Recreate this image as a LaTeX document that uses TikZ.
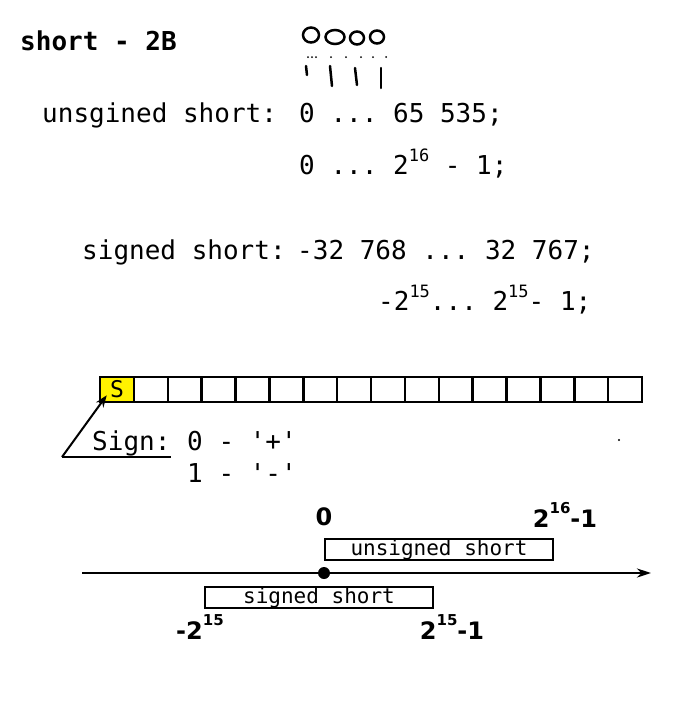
\documentclass[tikz,border=0pt]{standalone}
\usepackage{fontspec}
\setmonofont{DejaVu Sans Mono}
\newfontfamily\handfont{DejaVu Sans}
\usetikzlibrary{arrows.meta, positioning, calc}
\definecolor{cYellow}{HTML}{FFF200}
\newcommand{\upnum}[1]{\raisebox{0.5em}{\fontsize{17}{17}\selectfont #1}}
\newcommand{\uphand}[1]{\raisebox{0.55em}{\fontsize{15}{15}\selectfont #1}}
\tikzset{
  code/.style={font=\ttfamily\fontsize{26}{30}\selectfont, inner sep=0pt, anchor=base west},
  codeb/.style={code, font=\ttfamily\bfseries\fontsize{26}{30}\selectfont},
  cell/.style={draw, line width=2.5pt, minimum width=33.875pt, minimum height=25pt,
    inner sep=0pt, font=\ttfamily\fontsize{23}{24}\selectfont},
  rangebox/.style={draw, line width=2.5pt, minimum width=228pt, minimum height=21pt,
    inner sep=0pt, font=\ttfamily\fontsize{21}{22}\selectfont},
  hand/.style={font=\handfont\bfseries\fontsize{24}{26}\selectfont, inner sep=0pt},
  pen/.style={line width=2.5pt, line cap=round},
}

\begin{document}
\begin{tikzpicture}[x=1pt, y=-1pt]
  \useasboundingbox (0,0) rectangle (686,710);

  % Title
  \node[codeb] (title) at (20,50) {short - 2B};

  % Bits sketch
  \draw[pen] (311,35) ellipse [x radius=8, y radius=7.5];
  \draw[pen] (335,37) ellipse [x radius=9.5, y radius=7];
  \draw[pen] (357,38) ellipse [x radius=7, y radius=6.5];
  \draw[pen] (377,37) ellipse [x radius=7, y radius=6.5];
  \foreach \x in {308,312,316,331,346,361,373,386}
    \fill (\x,57) circle (1);
  \draw[pen] (306,66) -- (307,75);
  \draw[pen] (330,66) -- (332,86);
  \draw[pen] (355,68) -- (357,85);
  \draw[pen] (381,68) -- (381,88);

  % Unsigned range
  \node[code] (ulabel) at (42,122) {unsgined short:};
  \node[code] (urange) at (299,122) {0 ... 65 535;};
  \node[code] (upow) at (299,174) {0 ... 2\upnum{16} - 1;};

  % Signed range
  \node[code] (slabel) at (82,259) {signed short:};
  \node[code] (srange) at (297,259) {-32 768 ... 32 767;};
  \node[code] (spow) at (378,310) {-2\upnum{15}... 2\upnum{15}- 1;};

  % Bit cells
  \foreach \i in {1,...,16}
    \node[cell] (cell\i) at ({100+(\i-0.5)*33.875},389.5) {};
  \node[cell, fill=cYellow] at (cell1) {S};

  % Sign bit
  \node[code] (sgn) at (92,450) {Sign:};
  \node[code] (plus) at (187,450) {0 - '+'};
  \node[code] (minus) at (187,482) {1 - '-'};
  \coordinate (corner) at (62,457);
  \draw[line width=2pt] (corner) -- (sgn.south east |- corner);
  \draw[line width=2pt, -{Stealth[length=12pt, width=9pt]}]
    (corner) -- ([shift={(8,-8)}]cell1.south west);
  \fill (619,440) circle (1.2);

  % Number line
  \coordinate (axL) at (82,573);
  \coordinate (axR) at (651,573);
  \draw[line width=2.5pt, -{Stealth[length=14pt, width=9pt]}] (axL) -- (axR);
  \fill (324,573) circle (6);
  \node[rangebox] (ubox) at (439,549.5) {unsigned short};
  \node[rangebox] (sbox) at (319,597.5) {signed short};

  % Hand labels
  \node[hand] (zero) at (324,517) {0};
  \node[hand] (umax) at (565,515) {2\uphand{16}-1};
  \node[hand] (smin) at (200,627) {-2\uphand{15}};
  \node[hand] (smax) at (452,627) {2\uphand{15}-1};

\end{tikzpicture}
\end{document}
